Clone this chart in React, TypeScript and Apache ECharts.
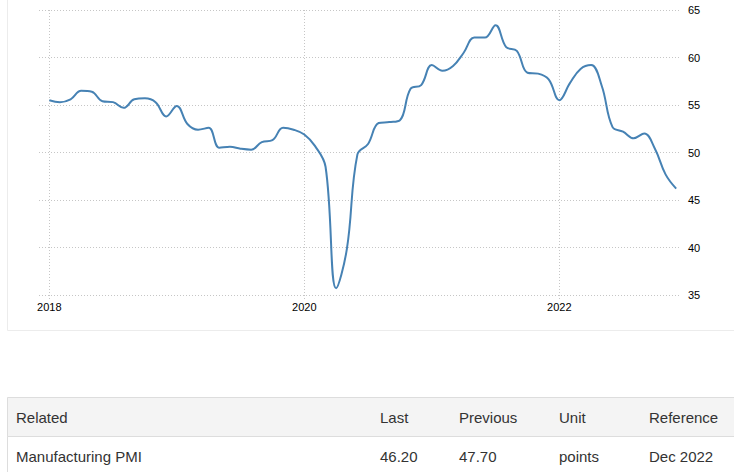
import React, { useEffect, useRef } from "react";
import * as echarts from "echarts";

// ---- data ----
const START_YEAR = 2018;
const pmi2018 = [55.5, 55.3, 55.6, 56.5, 56.4, 55.4, 55.3, 54.7, 55.6, 55.7, 55.3, 53.8];
const pmi2019 = [54.9, 53.0, 52.4, 52.6, 50.5, 50.6, 50.4, 50.3, 51.1, 51.3, 52.6, 52.4];
const pmi2020 = [51.9, 50.7, 48.5, 35.7, 39.8, 49.8, 50.9, 53.1, 53.2, 53.4, 56.7, 57.1];
const pmi2021 = [59.2, 58.6, 59.1, 60.5, 62.1, 62.1, 63.4, 61.1, 60.7, 58.4, 58.3, 57.7];
const pmi2022 = [55.5, 57.3, 58.8, 59.2, 57.0, 52.7, 52.2, 51.5, 52.0, 50.4, 47.7, 46.2];
const yearTicks = [2018, 2020, 2022];
const yTicks = [35, 40, 45, 50, 55, 60, 65];

const tableHeader = ["Related", "Last", "Previous", "Unit", "Reference"];
const tableRow = ["Manufacturing PMI", "46.20", "47.70", "points", "Dec 2022"];

// ---- layout ----
const W = 734;
const H = 472;
const PLOT_TOP = 10;
const PLOT_H = 285;
const GRID_LEFT = 39;
const PLOT_RIGHT_X = 680;
const FIRST_X = 49.3;
const PX_PER_YEAR = 127.5;
const COL_X = [16, 380, 459, 559, 649];
const FONT = '"Liberation Sans", Arial, sans-serif';
const GRID_COLOR = "#c6c6c6";

export default function App() {
  const ref = useRef<HTMLDivElement>(null);

  useEffect(() => {
    if (!ref.current) return;
    const chart = echarts.init(ref.current, undefined, { renderer: "svg" });

    const all = [...pmi2018, ...pmi2019, ...pmi2020, ...pmi2021, ...pmi2022];
    const data = all.map((v, i) => [START_YEAR + i / 12, v]);
    const xMax = START_YEAR + (PLOT_RIGHT_X - FIRST_X) / PX_PER_YEAR;

    const textEls: any[] = [];
    tableHeader.forEach((t, i) =>
      textEls.push({
        type: "text",
        x: COL_X[i],
        y: 417,
        style: { text: t, fill: "#333", fontSize: 15, fontFamily: FONT, verticalAlign: "middle", align: "left" },
      })
    );
    tableRow.forEach((t, i) =>
      textEls.push({
        type: "text",
        x: COL_X[i],
        y: 456,
        style: { text: t, fill: "#333", fontSize: 15, fontFamily: FONT, verticalAlign: "middle", align: "left" },
      })
    );

    chart.setOption({
      animation: false,
      backgroundColor: "#fff",
      grid: [
        { left: GRID_LEFT, right: W - PLOT_RIGHT_X, top: PLOT_TOP, height: PLOT_H },
        { left: FIRST_X, right: W - PLOT_RIGHT_X, top: PLOT_TOP, height: PLOT_H },
      ],
      xAxis: [
        { gridIndex: 0, type: "value", show: false, min: 0, max: 1 },
        {
          gridIndex: 1,
          type: "value",
          min: START_YEAR,
          max: xMax,
          interval: 2,
          axisLine: { show: false },
          axisTick: {
            show: true,
            length: 6,
            customValues: yearTicks,
            lineStyle: { color: GRID_COLOR, type: [1, 2] },
          },
          axisLabel: {
            customValues: yearTicks,
            color: "#000",
            fontSize: 11,
            fontFamily: FONT,
            margin: 6,
            formatter: (v: number) => String(Math.round(v)),
          },
          splitLine: {
            show: true,
            lineStyle: { color: GRID_COLOR, type: [1, 2], width: 1 },
          },
        },
      ],
      yAxis: [
        {
          gridIndex: 0,
          type: "value",
          position: "right",
          min: yTicks[0],
          max: yTicks[yTicks.length - 1],
          interval: 5,
          axisLine: { show: false },
          axisTick: { show: false },
          axisLabel: { color: "#000", fontSize: 11, fontFamily: FONT, margin: 8 },
          splitLine: { show: true, lineStyle: { color: GRID_COLOR, type: [1, 2], width: 1 } },
        },
        {
          gridIndex: 1,
          type: "value",
          show: false,
          min: yTicks[0],
          max: yTicks[yTicks.length - 1],
          splitLine: { show: false },
        },
      ],
      series: [
        {
          type: "line",
          xAxisIndex: 1,
          yAxisIndex: 1,
          data,
          smooth: 0.4,
          showSymbol: false,
          silent: true,
          lineStyle: { color: "#4682b4", width: 2 },
        },
      ],
      graphic: [
        { type: "line", shape: { x1: 7.5, y1: 0, x2: 7.5, y2: 330.5 }, style: { stroke: "#ececec", lineWidth: 1 }, silent: true },
        { type: "line", shape: { x1: 7.5, y1: 330.5, x2: W, y2: 330.5 }, style: { stroke: "#ececec", lineWidth: 1 }, silent: true },
        { type: "rect", shape: { x: 7.5, y: 397.5, width: W, height: 39 }, style: { fill: "#f4f4f4", stroke: "#dddddd", lineWidth: 1 }, silent: true },
        { type: "line", shape: { x1: 7.5, y1: 436.5, x2: 7.5, y2: H }, style: { stroke: "#dddddd", lineWidth: 1 }, silent: true },
        ...textEls,
      ],
    });

    return () => chart.dispose();
  }, []);

  return (
    <div
      ref={ref}
      style={{ position: "absolute", left: 0, top: 0, width: W, height: H, background: "#fff" }}
    />
  );
}
